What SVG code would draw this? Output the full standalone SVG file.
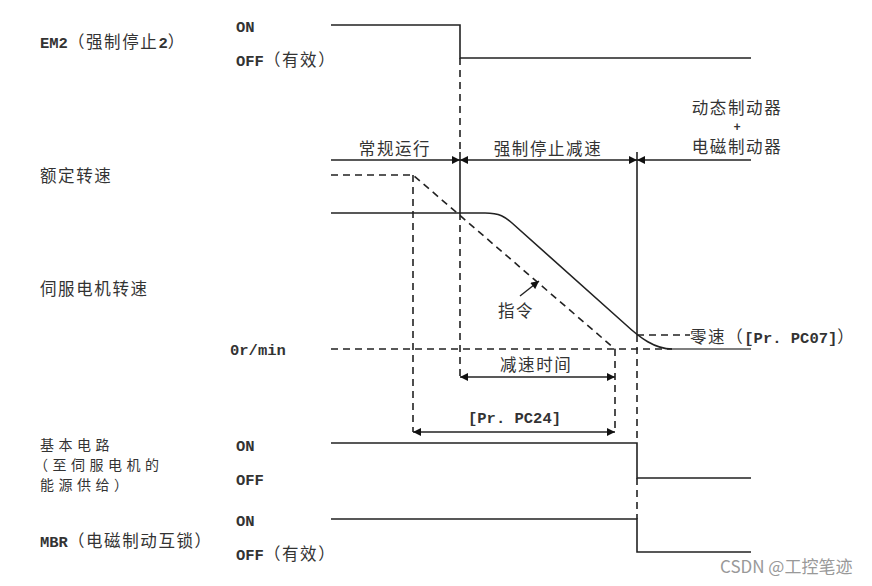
<svg xmlns="http://www.w3.org/2000/svg" width="872" height="586" viewBox="0 0 872 586">
<style>
  .t { font-family: "Liberation Mono", "Noto Sans CJK SC", monospace; font-size: 15.5px; fill: #333; font-weight: bold; }
  .c { font-family: "Noto Sans CJK SC", sans-serif; font-size: 16.5px; letter-spacing: 1.6px; font-weight: normal; }
  .m { font-size: 14px; letter-spacing: 4.5px; }
  .s { stroke: #222; stroke-width: 1.6; fill: none; }
  .d { stroke: #222; stroke-width: 1.6; fill: none; stroke-dasharray: 7 5; }
  .g { stroke: #555; stroke-width: 1.4; fill: none; }
  .a { stroke: #222; stroke-width: 1.4; fill: none; }
</style>
<defs>
  <marker id="arr" viewBox="0 0 10 10" refX="10" refY="5" markerUnits="userSpaceOnUse" markerWidth="9" markerHeight="8" orient="auto-start-reverse">
    <path d="M0,0 L10,5 L0,10 z" fill="#111"/>
  </marker>
</defs>
<rect width="872" height="586" fill="#fff"/>

<g id="labels-left">
  <text class="t" x="40" y="48">EM2<tspan class="c">（强制停止</tspan>2<tspan class="c">）</tspan></text>
  <text class="t" x="236" y="32">ON</text>
  <text class="t" x="236" y="66">OFF<tspan class="c">（有效）</tspan></text>
  <text class="t c" x="40" y="182">额定转速</text>
  <text class="t c" x="40" y="295">伺服电机转速</text>
  <text class="t" x="230" y="355">0r/min</text>
  <text class="t c m" x="40" y="450">基本电路</text>
  <text class="t c m" x="34" y="470">（至伺服电机的</text>
  <text class="t c m" x="40" y="490">能源供给）</text>
  <text class="t" x="236" y="451">ON</text>
  <text class="t" x="236" y="485">OFF</text>
  <text class="t" x="236" y="526">ON</text>
  <text class="t" x="40" y="547">MBR<tspan class="c">（电磁制动互锁）</tspan></text>
  <text class="t" x="236" y="560">OFF<tspan class="c">（有效）</tspan></text>
</g>

<g id="phase-labels">
  <text class="t c" x="395" y="155" text-anchor="middle">常规运行</text>
  <text class="t c" x="548" y="155" text-anchor="middle">强制停止减速</text>
  <text class="t c" x="737" y="114" text-anchor="middle">动态制动器</text>
  <text class="t" x="737" y="131" text-anchor="middle" style="font-size:12px">+</text>
  <text class="t c" x="737" y="153" text-anchor="middle">电磁制动器</text>
  <text class="t c" x="498" y="317">指令</text>
  <text class="t c" x="500" y="371">减速时间</text>
  <text class="t" x="468" y="423">[Pr. PC24]</text>
  <text class="t" x="690" y="343"><tspan class="c">零速（</tspan>[Pr. PC07]<tspan class="c">）</tspan></text>
</g>

<g id="signals">
  <path id="em2" class="s" d="M331,25 L460,25 L460,58 L751,58"/>
  <path id="base" class="s" d="M331,443 L637,443 L637,478 L751,478"/>
  <path id="mbr" class="s" d="M331,519 L637,519 L637,552 L751,552"/>
  <path id="speed" class="s" d="M331,213 L485,213 C500,213 505,217 512,223 L625,324 C640,338 655,349 672,349"/>
  <path class="g" d="M672,349 L751,349"/>
  <path id="command" class="d" d="M331,175 L413,175 L615,349"/>
</g>

<g id="connectors">
  <path class="d" d="M460,58 L460,152"/>
  <path class="s" d="M460,152 L460,213"/>
  <path class="d" d="M460,213 L460,378"/>
  <path class="s" d="M637,152 L637,335"/>
  <path class="d" d="M637,335 L637,443"/>
  <path class="d" d="M637,478 L637,519"/>
  <path class="d" d="M413,175 L413,432"/>
  <path class="d" d="M615,349 L615,432"/>
  <path class="d" d="M331,349 L672,349"/>
  <path class="d" d="M637,335 L690,335"/>
  <path class="s" d="M331,160 L460,160" marker-end="url(#arr)"/>
  <path class="s" d="M460,160 L637,160" marker-start="url(#arr)" marker-end="url(#arr)"/>
  <path class="s" d="M637,160 L751,160" marker-start="url(#arr)"/>
  <path class="a" d="M460,377 L615,377" marker-start="url(#arr)" marker-end="url(#arr)"/>
  <path class="a" d="M413,432 L615,432" marker-start="url(#arr)" marker-end="url(#arr)"/>
  <path class="a" d="M520,296 L539,281" marker-end="url(#arr)"/>
</g>

<text x="720" y="573" style="font-family:'Noto Sans CJK SC',sans-serif;font-size:17px;fill:#999">CSDN @工控笔迹</text>
</svg>
